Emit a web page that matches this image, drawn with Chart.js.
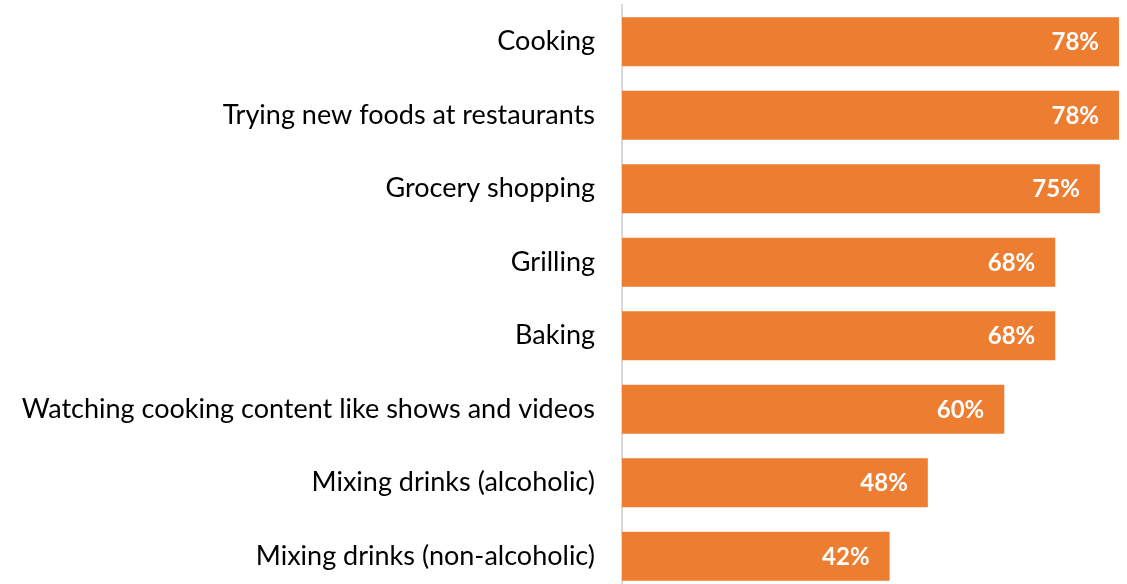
<!DOCTYPE html>
<html>
<head>
<meta charset="utf-8">
<script src="https://cdn.jsdelivr.net/npm/chart.js@4"></script>
<style>
  html, body { margin: 0; padding: 0; background: #fff; overflow: hidden; }
  #myChart { display: block; }
</style>
</head>
<body>
<canvas id="myChart" width="1127" height="593"></canvas>
<script>
// Aktivitäten und Anteile in Prozent
const categories = [
    "Cooking",
    "Trying new foods at restaurants",
    "Grocery shopping",
    "Grilling",
    "Baking",
    "Watching cooking content like shows and videos",
    "Mixing drinks (alcoholic)",
    "Mixing drinks (non-alcoholic)"
];
const values = [78, 78, 75, 68, 68, 60, 48, 42];
const valueLabels = ["78%", "78%", "75%", "68%", "68%", "60%", "48%", "42%"];

const barColor = '#ED7D31';

// Prozentwerte weiß und fett ans Balkenende schreiben
const barLabels = {
    id: 'barLabels',
    afterDatasetsDraw(chart) {
        const ctx = chart.ctx;
        const meta = chart.getDatasetMeta(0);
        ctx.save();
        ctx.fillStyle = '#ffffff';
        ctx.font = 'bold 24px Lato, "Open Sans", sans-serif';
        ctx.textAlign = 'right';
        ctx.textBaseline = 'middle';
        meta.data.forEach((bar, i) => {
            ctx.fillText(valueLabels[i], bar.x - 20, bar.y + 1);
        });
        ctx.restore();
    }
};

const ctx = document.getElementById('myChart').getContext('2d');
new Chart(ctx, {
    type: 'bar',
    data: {
        labels: categories,
        datasets: [{
            data: values,
            backgroundColor: barColor,
            borderWidth: 0,
            barPercentage: 0.67,
            categoryPercentage: 1.0
        }]
    },
    options: {
        responsive: false,
        indexAxis: 'y',
        animation: false,
        layout: { padding: { top: 5, right: 0, bottom: 0, left: 0 } },
        plugins: {
            legend: { display: false },
            tooltip: { enabled: false }
        },
        scales: {
            x: {
                display: false,
                min: 0,
                max: 79.26
            },
            y: {
                grid: { display: false, drawTicks: false },
                border: { color: '#d9d9d9', width: 2 },
                ticks: {
                    color: '#000000',
                    padding: 27,
                    font: { family: 'Lato, "Open Sans", sans-serif', size: 27 }
                },
                afterFit(scale) {
                    // feste Achsenbreite, kein Zusatzrand oben/unten
                    scale.width = 622;
                    scale.paddingTop = 0;
                    scale.paddingBottom = 0;
                }
            }
        }
    },
    plugins: [barLabels]
});
</script>
</body>
</html>
